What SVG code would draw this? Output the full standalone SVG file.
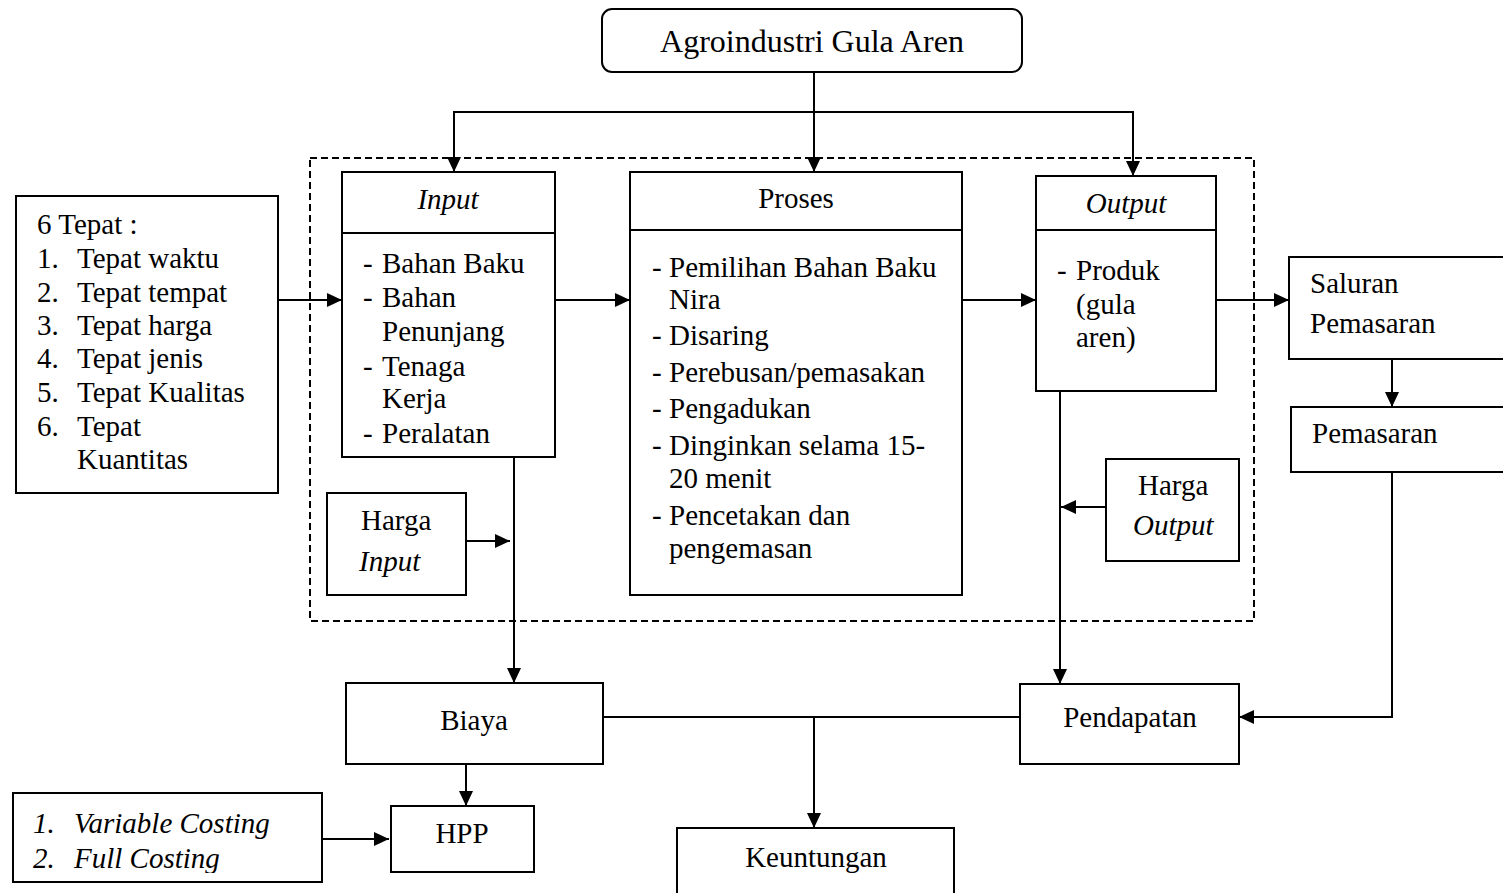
<svg xmlns="http://www.w3.org/2000/svg" width="1503" height="893" viewBox="0 0 1503 893">
<style>
  .box { fill: #fff; stroke: #000; stroke-width: 2; }
  .t { font-family: "Liberation Serif", "Times New Roman", serif; font-size: 29px; fill: #000; }
  .i { font-style: italic; }
  .c { text-anchor: middle; }
  .ln { fill: none; stroke: #000; stroke-width: 2; }
  .dash { fill: none; stroke: #000; stroke-width: 2; stroke-dasharray: 7 4; }
</style>
<defs>
  <marker id="arr" markerUnits="userSpaceOnUse" markerWidth="15" markerHeight="14" refX="15" refY="7" orient="auto">
    <path d="M0,0 L15,7 L0,14 z" fill="#000"/>
  </marker>
  <clipPath id="clipVar"><rect x="13" y="793" width="309" height="80"/></clipPath>
</defs>
<rect x="0" y="0" width="1503" height="893" fill="#fff"/>

<g id="boundary">
  <rect class="dash" x="310" y="158" width="944" height="463"/>
</g>

<g id="connectors">
  <line class="ln" x1="814" y1="72" x2="814" y2="172" marker-end="url(#arr)"/>
  <polyline class="ln" points="454,112 1133,112"/>
  <line class="ln" x1="454" y1="111" x2="454" y2="172" marker-end="url(#arr)"/>
  <line class="ln" x1="1133" y1="111" x2="1133" y2="176" marker-end="url(#arr)"/>
  <line class="ln" x1="278" y1="300" x2="342" y2="300" marker-end="url(#arr)"/>
  <line class="ln" x1="555" y1="300" x2="630" y2="300" marker-end="url(#arr)"/>
  <line class="ln" x1="962" y1="300" x2="1036" y2="300" marker-end="url(#arr)"/>
  <line class="ln" x1="1216" y1="300" x2="1289" y2="300" marker-end="url(#arr)"/>
  <line class="ln" x1="1392" y1="359" x2="1392" y2="407" marker-end="url(#arr)"/>
  <polyline class="ln" points="1392,472 1392,717 1239,717" marker-end="url(#arr)" stroke-width="2.5"/>
  <line class="ln" x1="514" y1="457" x2="514" y2="683" marker-end="url(#arr)"/>
  <line class="ln" x1="466" y1="541" x2="510" y2="541" marker-end="url(#arr)"/>
  <line class="ln" x1="1060" y1="391" x2="1060" y2="684" marker-end="url(#arr)"/>
  <line class="ln" x1="1106" y1="507" x2="1061" y2="507" marker-end="url(#arr)"/>
  <line class="ln" x1="603" y1="717" x2="1020" y2="717" stroke-width="1.5"/>
  <line class="ln" x1="814" y1="717" x2="814" y2="828" marker-end="url(#arr)"/>
  <line class="ln" x1="466" y1="764" x2="466" y2="806" marker-end="url(#arr)"/>
  <line class="ln" x1="322" y1="839" x2="389" y2="839" marker-end="url(#arr)"/>
</g>

<g id="agroindustri">
  <rect class="box" x="602" y="9" width="420" height="63" rx="10"/>
  <text class="t c" x="812" y="52" style="font-size:32px">Agroindustri Gula Aren</text>
</g>

<g id="tepat">
  <rect class="box" x="16" y="196" width="262" height="297"/>
  <text class="t" x="37" y="234">6 Tepat :</text>
  <text class="t" x="37" y="268">1.</text><text class="t" x="77" y="268">Tepat waktu</text>
  <text class="t" x="37" y="302">2.</text><text class="t" x="77" y="302">Tepat tempat</text>
  <text class="t" x="37" y="335">3.</text><text class="t" x="77" y="335">Tepat harga</text>
  <text class="t" x="37" y="368">4.</text><text class="t" x="77" y="368">Tepat jenis</text>
  <text class="t" x="37" y="402">5.</text><text class="t" x="77" y="402">Tepat Kualitas</text>
  <text class="t" x="37" y="436">6.</text><text class="t" x="77" y="436">Tepat</text>
  <text class="t" x="77" y="469">Kuantitas</text>
</g>

<g id="input">
  <rect class="box" x="342" y="172" width="213" height="285"/>
  <line class="ln" x1="342" y1="233" x2="555" y2="233"/>
  <text class="t i c" x="448" y="209">Input</text>
  <text class="t" x="363" y="273">-</text><text class="t" x="382" y="273">Bahan Baku</text>
  <text class="t" x="363" y="307">-</text><text class="t" x="382" y="307">Bahan</text>
  <text class="t" x="382" y="341">Penunjang</text>
  <text class="t" x="363" y="376">-</text><text class="t" x="382" y="376">Tenaga</text>
  <text class="t" x="382" y="408">Kerja</text>
  <text class="t" x="363" y="443">-</text><text class="t" x="382" y="443">Peralatan</text>
</g>

<g id="harga-input">
  <rect class="box" x="327" y="493" width="139" height="102"/>
  <text class="t" x="361" y="530">Harga</text>
  <text class="t i" x="359" y="571">Input</text>
</g>

<g id="proses">
  <rect class="box" x="630" y="172" width="332" height="423"/>
  <line class="ln" x1="630" y1="230" x2="962" y2="230"/>
  <text class="t c" x="796" y="208">Proses</text>
  <text class="t" x="652" y="277">-</text><text class="t" x="669" y="277">Pemilihan Bahan Baku</text>
  <text class="t" x="669" y="309">Nira</text>
  <text class="t" x="652" y="345">-</text><text class="t" x="669" y="345">Disaring</text>
  <text class="t" x="652" y="382">-</text><text class="t" x="669" y="382">Perebusan/pemasakan</text>
  <text class="t" x="652" y="418">-</text><text class="t" x="669" y="418">Pengadukan</text>
  <text class="t" x="652" y="455">-</text><text class="t" x="669" y="455">Dinginkan selama 15-</text>
  <text class="t" x="669" y="488">20 menit</text>
  <text class="t" x="652" y="525">-</text><text class="t" x="669" y="525">Pencetakan dan</text>
  <text class="t" x="669" y="558">pengemasan</text>
</g>

<g id="output">
  <rect class="box" x="1036" y="176" width="180" height="215"/>
  <line class="ln" x1="1036" y1="230" x2="1216" y2="230"/>
  <text class="t i c" x="1126" y="213">Output</text>
  <text class="t" x="1057" y="280">-</text><text class="t" x="1076" y="280">Produk</text>
  <text class="t" x="1076" y="314">(gula</text>
  <text class="t" x="1076" y="347">aren)</text>
</g>

<g id="harga-output">
  <rect class="box" x="1106" y="459" width="133" height="102"/>
  <text class="t" x="1138" y="495">Harga</text>
  <text class="t i" x="1133" y="535">Output</text>
</g>

<g id="saluran">
  <rect class="box" x="1289" y="257" width="230" height="102"/>
  <text class="t" x="1310" y="293">Saluran</text>
  <text class="t" x="1310" y="333">Pemasaran</text>
</g>

<g id="pemasaran">
  <rect class="box" x="1291" y="407" width="230" height="65"/>
  <text class="t" x="1312" y="443">Pemasaran</text>
</g>

<g id="biaya">
  <rect class="box" x="346" y="683" width="257" height="81"/>
  <text class="t c" x="474" y="730">Biaya</text>
</g>

<g id="pendapatan">
  <rect class="box" x="1020" y="684" width="219" height="80"/>
  <text class="t c" x="1130" y="727">Pendapatan</text>
</g>

<g id="hpp">
  <rect class="box" x="391" y="806" width="143" height="66"/>
  <text class="t c" x="462" y="843">HPP</text>
</g>

<g id="costing">
  <rect class="box" x="13" y="793" width="309" height="89"/>
  <g clip-path="url(#clipVar)">
    <text class="t i" x="33" y="833">1.</text><text class="t i" x="74" y="833">Variable Costing</text>
    <text class="t i" x="33" y="868">2.</text><text class="t i" x="74" y="868">Full Costing</text>
  </g>
</g>

<g id="keuntungan">
  <rect class="box" x="677" y="828" width="277" height="80"/>
  <text class="t c" x="816" y="867">Keuntungan</text>
</g>
</svg>
